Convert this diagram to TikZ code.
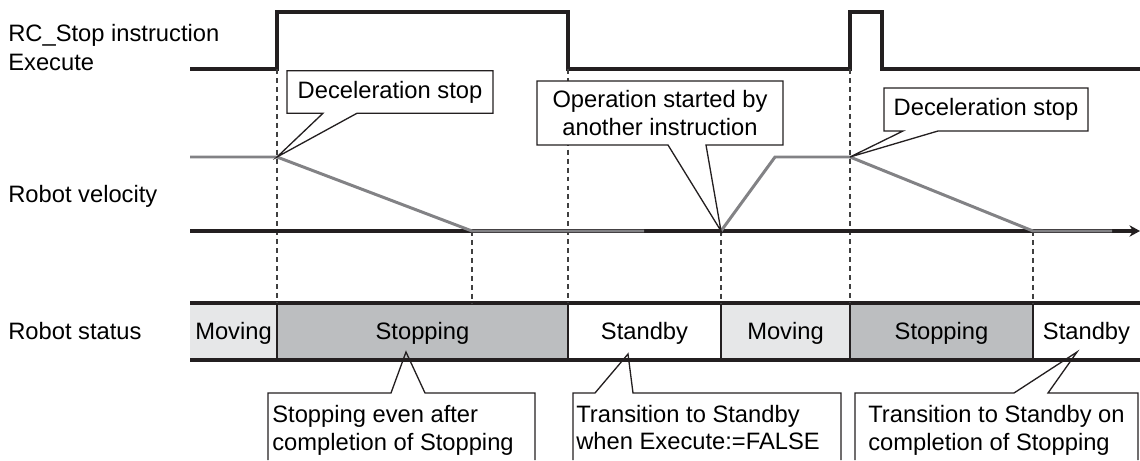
\documentclass[tikz,border=0pt]{standalone}
\usepackage{fontspec}
\setmainfont{Liberation Sans}
\usetikzlibrary{arrows.meta}
\definecolor{sigblack}{RGB}{35,31,32}
\definecolor{velgray}{RGB}{130,130,133}
\definecolor{movefill}{RGB}{230,231,232}
\definecolor{stopfill}{RGB}{188,190,192}
\begin{document}
\begin{tikzpicture}[>={Stealth[length=6pt,width=6.5pt]},
    font=\fontsize{13.5}{15.5}\selectfont,
    sig/.style={line width=1.8pt, sigblack},
    vel/.style={line width=1.7pt, velgray},
    guide/.style={dash pattern=on 2.8pt off 2.3pt, line width=.7pt, black!75},
    co/.style={line width=.75pt, sigblack},
    box/.style={fill=white, inner sep=0pt, outer sep=0pt},
    lbl/.style={anchor=base west, inner sep=0pt},
    stat/.style={anchor=base, inner sep=0pt}]
\useasboundingbox (0,0) rectangle (22.8,9.2);

\node[lbl] (exe1) at (0.16,8.36) {RC\_Stop instruction};
\node[lbl] (exe2) at (0.16,7.78) {Execute};
\node[lbl] (vlbl) at (0.16,5.16) {Robot velocity};
\node[lbl] (slbl) at (0.16,2.42) {Robot status};

\draw[sig](3.8,7.82)--(5.54,7.82)--(5.54,8.96)--(11.36,8.96)--(11.36,7.82)--(17,7.82)--(17,8.96)--(17.64,8.96)--(17.64,7.82)--(22.8,7.82);

\fill[movefill](3.8,2) rectangle (5.54,3.14);
\fill[stopfill](5.54,2) rectangle (11.36,3.14);
\fill[movefill](14.42,2) rectangle (17,3.14);
\fill[stopfill](17,2) rectangle (20.66,3.14);
\foreach \x in {5.54,11.36,14.42,17,20.66}
    \draw[line width=.85pt, sigblack](\x,2)--(\x,3.14);
\draw[sig](3.8,3.14)--(22.8,3.14) (3.8,2)--(22.8,2);
\foreach \x/\s [count=\i] in {4.67/Moving, 8.45/Stopping, 12.89/Standby, 15.71/Moving, 18.83/Stopping, 21.73/Standby}
    \node[stat] (st\i) at (\x,2.42) {\s};

\draw[guide](5.54,7.82)--(5.54,3.14);
\draw[guide](9.44,4.58)--(9.44,3.14);
\draw[guide](11.36,7.82)--(11.36,3.14);
\draw[guide](14.42,4.58)--(14.42,3.14);
\draw[guide](17,7.82)--(17,3.14);
\draw[guide](20.66,4.58)--(20.66,3.14);

\draw[sig,->](3.8,4.58)--(22.8,4.58);
\draw[vel](3.8,6.06)--(5.54,6.06)--(9.44,4.58)--(12.88,4.58);
\draw[vel](14.42,4.58)--(15.5,6.06)--(17,6.06)--(20.66,4.58)--(22.24,4.58);

\coordinate (v1) at (5.54,6.06);
\coordinate (v2) at (14.42,4.58);
\coordinate (v3) at (17,6.06);
\coordinate (s1) at (8.12,2.16);
\coordinate (s2) at (12.56,2.12);
\coordinate (s3) at (21.54,2.16);

\node[box, minimum width=4.12cm, minimum height=.85cm] (dec1) at (7.8,7.36) {Deceleration stop};
\draw[co](dec1.south west)--(dec1.north west)--(dec1.north east)--(dec1.south east)
    --([xshift=1.4cm]dec1.south west)--(v1)--([xshift=.72cm]dec1.south west)--cycle;

\node[box, minimum width=4.92cm, minimum height=1.28cm, align=center] (oper) at (13.2,6.94) {Operation started by\\another instruction};
\draw[co](oper.south west)--(oper.north west)--(oper.north east)--(oper.south east)
    --([xshift=3.38cm]oper.south west)--(v2)--([xshift=2.62cm]oper.south west)--cycle;

\node[box, minimum width=4.08cm, minimum height=.86cm] (dec2) at (19.72,7.01) {Deceleration stop};
\draw[co](dec2.south west)--(dec2.north west)--(dec2.north east)--(dec2.south east)
    --([xshift=1.08cm]dec2.south west)--(v3)--([xshift=.38cm]dec2.south west)--cycle;

\draw[co](5.36,0)--(5.36,1.34)--(7.82,1.34)--(s1)--(8.5,1.34)--(10.7,1.34)--(10.7,0);
\node[anchor=west, inner sep=0pt, align=left] (note1) at (5.44,.594) {Stopping even after\\completion of Stopping};

\draw[co](11.46,0)--(11.46,1.34)--(11.9,1.34)--(s2)--(12.66,1.34)--(16.82,1.34)--(16.82,0);
\node[anchor=west, inner sep=0pt, align=left] (note2) at (11.52,.644) {Transition to Standby\\when Execute:=FALSE};

\draw[co](17.1,0)--(17.1,1.34)--(20.28,1.34)--(s3)--(20.96,1.34)--(22.76,1.34)--(22.76,0);
\node[anchor=west, inner sep=0pt, align=left] (note3) at (17.36,.594) {Transition to Standby on\\completion of Stopping};
\end{tikzpicture}
\end{document}
